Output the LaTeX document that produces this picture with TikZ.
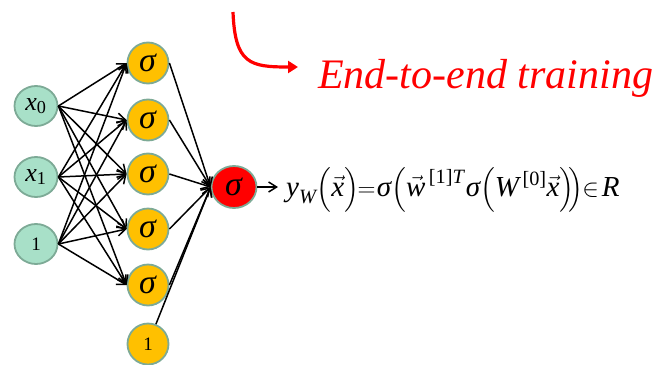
\documentclass[tikz,border=0pt]{standalone}
\usepackage{amsmath}
\usepackage{fontspec}
\setmainfont{Liberation Serif}
\usetikzlibrary{arrows.meta,positioning,shapes.geometric}
\definecolor{nnteal}{RGB}{168,224,200}
\definecolor{nnedge}{RGB}{125,170,150}
\definecolor{nnorange}{RGB}{255,192,0}
\definecolor{nnred}{RGB}{255,0,0}
\newcommand{\ti}[1]{\textit{#1}}
\newcommand{\sig}{\textit{σ}}
\tikzset{
  inp/.style={ellipse, draw=nnedge, line width=1.8pt, fill=nnteal, minimum width=43pt, minimum height=40pt, inner sep=0pt, font=\fontsize{26}{30}\selectfont},
  hid/.style={circle, draw=nnedge, line width=1.8pt, fill=nnorange, minimum size=41pt, inner sep=0pt, font=\fontsize{34}{38}\selectfont},
  outn/.style={hid, ellipse, minimum width=45pt, minimum height=42pt, fill=nnred},
  conn/.style={-{Straight Barb[length=8pt,width=10pt]}, line width=1.5pt},
}

\begin{document}
\begin{tikzpicture}[x=1pt,y=-1pt]
  \useasboundingbox (0,0) rectangle (663,364);
  % Input layer
  \node[inp] (x0) at (36,106) {$\ti{x}_{\textrm{0}}$};
  \node[inp] (x1) at (36,177) {$\ti{x}_{\textrm{1}}$};
  \node[inp, font=\fontsize{19}{22}\selectfont] (b0) at (36,244) {1};
  % Hidden layer
  \node[hid] (h1) at (148,63) {\sig};
  \node[hid] (h2) at (148,120) {\sig};
  \node[hid] (h3) at (148,174) {\sig};
  \node[hid] (h4) at (148,229) {\sig};
  \node[hid] (h5) at (148,285) {\sig};
  \node[hid, font=\fontsize{19}{22}\selectfont] (b1) at (148,344) {1};
  % Output unit
  \node[outn] (out) at (234,187) {\sig};
  \coordinate (yend) at (278,187);
  % Weights
  \foreach \i in {x0,x1,b0}
    \foreach \j in {h1,h2,h3,h4,h5}
      \draw[conn] (\i.east) -- (\j.west);
  \foreach \j in {h1,h2,h3,h4,h5}
    \draw[conn] (\j.east) -- (out.west);
  \draw[conn] (b1) -- (out.west);
  \draw[conn] (out.east) -- (yend);
  % Formula
  \node[anchor=west, inner sep=0pt, font=\fontsize{29}{34}\selectfont] (fx) at (286,190)
    {$\ti{y}_{\ti{W}}\Bigl(\vec{\ti{x}}\Bigr)\mkern-1mu{=}\mkern1mu\sig\Bigl(\vec{\ti{w}}^{\,\textrm{[1]}\ti{T}}\mkern1mu\sig\Bigl(\ti{W}^{\,\textrm{[0]}}\vec{\ti{x}}\Bigr)\mkern-4mu\Bigr)\mkern-1mu{\in}\mkern2mu\ti{R}$};
  % End-to-end training
  \coordinate (cstart) at (233,12);
  \coordinate (cend) at (298,67);
  \draw[nnred, line width=3.2pt, -{Triangle[length=10pt,width=12pt]}] (cstart) .. controls (235,64) and (250,67) .. (cend);
  \node[anchor=base west, inner sep=0pt, text=nnred, font=\fontsize{42}{48}\selectfont\itshape] (e2e) at (318,88) {End-to-end training};
\end{tikzpicture}
\end{document}
